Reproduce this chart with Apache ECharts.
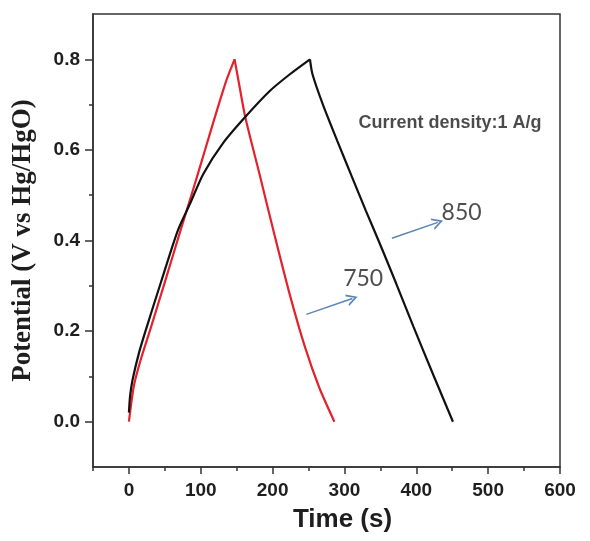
<!DOCTYPE html>
<html>
<head>
<meta charset="utf-8">
<script src="https://cdn.jsdelivr.net/npm/echarts@6/dist/echarts.min.js"></script>
<style>html,body{margin:0;padding:0;background:#fff;}#c{width:590px;height:541px;}</style>
</head>
<body>
<div id="c"></div>
<script>
// ---- data ----
const redCharge = [[0,0],[7,0.08],[17,0.14],[30,0.205],[50,0.308],[71,0.418],[85,0.49],[99,0.563],[112,0.632],[124,0.695],[136,0.755],[147,0.8]];
const redDischarge = [[147,0.8],[152,0.757],[162,0.672],[182,0.545],[203,0.41],[224,0.28],[245,0.165],[265,0.075],[286,0]];
const blackCharge = [[0,0.02],[1.5,0.055],[5,0.092],[14,0.152],[24,0.205],[45,0.31],[68,0.422],[85,0.481],[103.5,0.547],[131,0.615],[161.5,0.672],[196,0.73],[224,0.767],[252,0.8]];
const blackDischarge = [[252,0.8],[255.5,0.767],[270,0.7],[290,0.62],[310,0.542],[330,0.465],[350,0.39],[372,0.305],[396,0.21],[424,0.102],[451,0]];

const xMajorTicks = [0,100,200,300,400,500,600];
const xMinorTicks = [-50,50,150,250,350,450,550];
const yMajorTicks = [0,0.2,0.4,0.6,0.8];
const yMinorTicks = [0.1,0.3,0.5,0.7];

const noteText = [{name:'Current density:1 A/g', value:[447,0.66]}];
const sampleLabels = [{name:'850', value:[463,0.462]},{name:'750', value:[326,0.316]}];
const arrows = [[[247,0.237],[311,0.272]],[[366,0.405],[430,0.44]]];

const chart = echarts.init(document.getElementById('c'), null, {renderer:'canvas'});
const axisColor = '#333';
const sansBold = {fontFamily:'"Liberation Sans", Arial, sans-serif', fontWeight:'bold', color:'#1e1e1e'};
const chevron = 'path://M5,0 L10,10 L8.4,10 L5,3.2 L1.6,10 L0,10 Z';
const lineCommon = {showSymbol:false,smooth:0.25};

chart.setOption({
  animation:false,
  backgroundColor:'#fff',
  grid:{left:93,right:30,top:14,bottom:74,show:true,borderColor:axisColor,borderWidth:1.5,backgroundColor:'transparent'},
  xAxis:[
    {type:'value',min:-50,max:600,position:'bottom',
     axisLine:{show:true,onZero:false,lineStyle:{color:axisColor,width:1.5}},
     axisTick:{show:true,length:7,inside:false,customValues:xMajorTicks,lineStyle:{color:axisColor,width:1.5}},
     axisLabel:{customValues:xMajorTicks,margin:14,fontSize:19,...sansBold},
     splitLine:{show:false},
     name:'Time (s)',nameLocation:'middle',nameGap:40,
     nameTextStyle:{fontSize:26,padding:[0,0,0,32],...sansBold}},
    {type:'value',min:-50,max:600,position:'bottom',
     axisLine:{show:false,onZero:false},
     axisTick:{show:true,length:4,customValues:xMinorTicks,lineStyle:{color:axisColor,width:1.5}},
     axisLabel:{show:false},splitLine:{show:false}}
  ],
  yAxis:[
    {type:'value',min:-0.1,max:0.9,position:'left',
     axisLine:{show:true,onZero:false,lineStyle:{color:axisColor,width:1.5}},
     axisTick:{show:true,length:8,customValues:yMajorTicks,lineStyle:{color:axisColor,width:1.5}},
     axisLabel:{customValues:yMajorTicks,margin:13,fontSize:19,formatter:v=>v.toFixed(1),...sansBold},
     splitLine:{show:false},
     name:'Potential (V vs Hg/HgO)',nameLocation:'middle',nameGap:56,
     nameTextStyle:{fontSize:27,fontFamily:'"Liberation Serif", "Times New Roman", serif',fontWeight:'bold',color:'#1e1e1e'}},
    {type:'value',min:-0.1,max:0.9,position:'left',
     axisLine:{show:false,onZero:false},
     axisTick:{show:true,length:4,customValues:yMinorTicks,lineStyle:{color:axisColor,width:1.5}},
     axisLabel:{show:false},splitLine:{show:false}}
  ],
  series:[
    {type:'line',name:'750 charge',data:redCharge,...lineCommon,lineStyle:{color:'#e4222b',width:2.2},itemStyle:{color:'#e4222b'}},
    {type:'line',name:'750 discharge',data:redDischarge,...lineCommon,lineStyle:{color:'#e4222b',width:2.2},itemStyle:{color:'#e4222b'}},
    {type:'line',name:'850 charge',data:blackCharge,...lineCommon,lineStyle:{color:'#111',width:2.2},itemStyle:{color:'#111'}},
    {type:'line',name:'850 discharge',data:blackDischarge,...lineCommon,lineStyle:{color:'#111',width:2.2},itemStyle:{color:'#111'}},
    {type:'scatter',name:'note',data:noteText,symbolSize:0,silent:true,
     label:{show:true,position:'inside',formatter:p=>p.name,fontSize:18,...sansBold}},
    {type:'scatter',name:'samples',data:sampleLabels,symbolSize:0,silent:true,
     label:{show:true,position:'inside',formatter:p=>p.name,fontSize:23,fontFamily:'Lato, "Open Sans", sans-serif',color:'#222'},
     markLine:{silent:true,symbol:['none',chevron],symbolSize:[12,11],label:{show:false},
       lineStyle:{color:'#5b84b1',width:1.5,type:'solid'},
       data:arrows.map(a=>[{coord:a[0]},{coord:a[1]}])}}
  ]
});
</script>
</body>
</html>
